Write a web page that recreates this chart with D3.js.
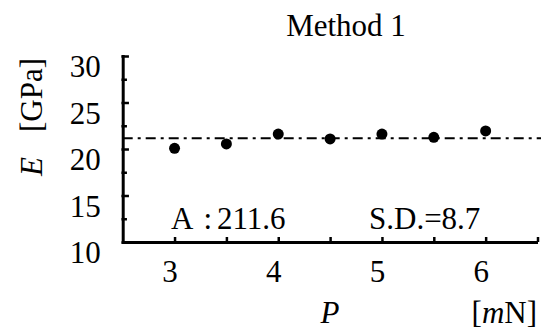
<!DOCTYPE html>
<html>
<head>
<meta charset="utf-8">
<script src="https://cdn.jsdelivr.net/npm/d3@7"></script>
<style>
  body { margin: 0; background: #fff; }
  svg text { font-family: "Liberation Serif", "Times New Roman", serif; fill: #000; }
</style>
</head>
<body>
<svg id="chart" width="541" height="335"></svg>
<script>
// data
var loads = [3, 3.5, 4, 4.5, 5, 5.5, 6]
var modulus = [20.07, 20.54, 21.6, 21.08, 21.6, 21.26, 21.94]
var average = 21.16
var xTicks = [3, 3.5, 4, 4.5, 5, 5.5, 6, 6.5]
var yTicks = [10, 12.5, 15, 17.5, 20, 22.5, 25, 27.5, 30]
var title = "Method 1"
var noteA = "A\uFF1A211.6"
var noteSD = "S.D.=8.7"

var dimensions = {
    width: 541,
    height: 335,
    margin: { top: 56, bottom: 93, right: 3.5, left: 122.7 }
}

var serif = "'Liberation Serif', 'Times New Roman', serif"
var fontSize = 31

var svg = d3.select("#chart")

var xScale = d3.scaleLinear()
    .domain([2.5, 6.5])
    .range([dimensions.margin.left, dimensions.width - dimensions.margin.right])

var yScale = d3.scaleLinear()
    .domain([10, 30])
    .range([dimensions.height - dimensions.margin.bottom, dimensions.margin.top])

// average line (dash-dot)
svg.append("line")
    .attr("x1", xScale(2.5))
    .attr("x2", dimensions.width)
    .attr("y1", yScale(average))
    .attr("y2", yScale(average))
    .style("stroke", "#000")
    .style("stroke-width", 2)
    .style("stroke-dasharray", "10,5,3,5")

// x axis, ticks pointing up, labels only on whole numbers
var xAxisgen = d3.axisBottom(xScale)
    .tickValues(xTicks)
    .tickSizeInner(-5)
    .tickSizeOuter(0)
    .tickPadding(18)
    .tickFormat(d => Number.isInteger(d) && d < 6.5 ? d : "")

var xAxis = svg.append("g")
    .attr("transform", `translate(0,${yScale(10)})`)
    .call(xAxisgen)
    .attr("font-family", serif)
    .attr("font-size", fontSize)
xAxis.select(".domain").style("stroke-width", 3)
xAxis.selectAll(".tick line").style("stroke-width", 2.5)
xAxis.selectAll(".tick text").attr("x", -5)

// y axis, ticks pointing in
var yAxisgen = d3.axisLeft(yScale)
    .tickValues(yTicks)
    .tickSizeInner(-5)
    .tickSizeOuter(0)
    .tickPadding(22)
    .tickFormat(d => d % 5 == 0 ? d : "")

var yAxis = svg.append("g")
    .attr("transform", `translate(${xScale(2.5)},0)`)
    .call(yAxisgen)
    .attr("font-family", serif)
    .attr("font-size", fontSize)
yAxis.select(".domain").style("stroke-width", 3)
yAxis.selectAll(".tick line")
    .attr("x2", d => d % 5 == 0 ? 5 : 3)
    .style("stroke-width", 2.5)
yAxis.selectAll(".tick text").attr("y", 11)
yAxis.selectAll("path, line").style("stroke-linecap", "square")

// points
svg.selectAll("circle.pt")
    .data(loads)
    .enter()
    .append("circle")
    .attr("class", "pt")
    .attr("cx", d => xScale(d))
    .attr("cy", (d, i) => yScale(modulus[i]))
    .attr("r", 5.5)
    .style("fill", "#000")

// title
svg.append("text")
    .attr("x", 346)
    .attr("y", 36)
    .attr("text-anchor", "middle")
    .style("font-size", fontSize + "px")
    .text(title)

// notes inside the plot
var a = svg.append("text")
    .attr("x", 171)
    .attr("y", 228.5)
    .style("font-size", fontSize + "px")
a.append("tspan").text("A")
a.append("tspan").attr("dx", 10).text(":")
a.append("tspan").attr("dx", 5).text("211.6")

svg.append("text")
    .attr("x", 369)
    .attr("y", 228.5)
    .style("font-size", fontSize + "px")
    .text(noteSD)

// x axis label
svg.append("text")
    .attr("x", 330)
    .attr("y", 323)
    .attr("text-anchor", "middle")
    .style("font-size", fontSize + "px")
    .style("font-style", "italic")
    .text("P")

var unit = svg.append("text")
    .attr("x", 537)
    .attr("y", 323)
    .attr("text-anchor", "end")
    .style("font-size", fontSize + "px")
unit.append("tspan").text("[")
unit.append("tspan").style("font-style", "italic").text("m")
unit.append("tspan").text("N]")

// y axis label
var ylab = svg.append("text")
    .attr("transform", "translate(42,176) rotate(-90)")
    .style("font-size", fontSize + "px")
ylab.append("tspan").style("font-style", "italic").text("E")
ylab.append("tspan").attr("x", 44).text("[GPa]")
</script>
</body>
</html>
